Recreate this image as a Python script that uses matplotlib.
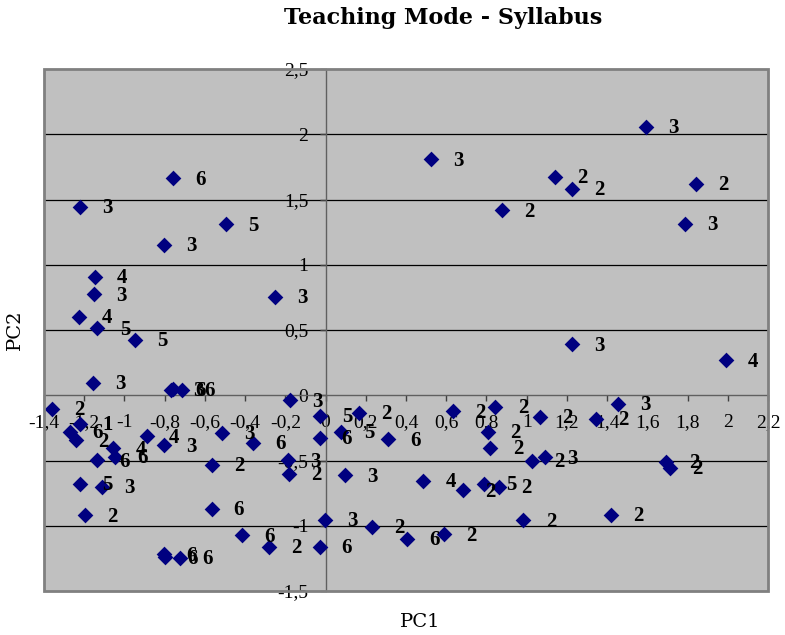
import matplotlib
matplotlib.use("Agg")
import matplotlib.pyplot as plt
from matplotlib.patches import Rectangle
from matplotlib.ticker import FuncFormatter

pc1 = [-0.759, -1.219, -0.497, -0.805, -1.147, -1.152, -1.225, -1.134, -0.950, -1.155,
       -0.768, -0.760, -0.714, -0.250, -0.175, -1.360, -1.272, -1.222, -1.242, -1.135,
       -1.055, -1.047, -0.889, -0.805, -0.514, -0.360, -0.567, -0.189, -0.180, -1.219,
       -1.110, -1.197, -0.567, -0.417, -0.280, -0.805, -0.800, -0.722, -0.030, -0.005,
       -0.030, -0.030, 0.079, 0.167, 0.312, 0.095, 0.487, 0.635, 0.845, 0.807,
       0.820, 1.067, 1.345, 1.025, 1.090, 0.682, 0.787, 0.862, 1.695, 1.712,
       1.420, 0.984, 0.229, 0.407, 0.590, 1.224, 1.990, 1.454, 0.524, 0.879,
       1.140, 1.224, 1.595, 1.840, 1.787]
pc2 = [1.661, 1.443, 1.310, 1.155, 0.907, 0.774, 0.600, 0.513, 0.427, 0.097,
       0.044, 0.046, 0.044, 0.753, -0.038, -0.102, -0.281, -0.217, -0.345, -0.498,
       -0.408, -0.473, -0.314, -0.383, -0.289, -0.366, -0.531, -0.498, -0.600, -0.677,
       -0.703, -0.920, -0.868, -1.073, -1.162, -1.218, -1.241, -1.247, -1.162, -0.953,
       -0.159, -0.324, -0.281, -0.136, -0.337, -0.613, -0.657, -0.123, -0.087, -0.281,
       -0.401, -0.166, -0.179, -0.500, -0.477, -0.728, -0.677, -0.703, -0.511, -0.554,
       -0.914, -0.958, -1.009, -1.098, -1.067, 0.389, 0.268, -0.064, 1.808, 1.418,
       1.673, 1.584, 2.056, 1.622, 1.316]
labels = ["6", "3", "5", "3", "4", "3", "4", "5", "5", "3",
          "3", "6", "6", "3", "3", "2", "6", "1", "2", "6",
          "4", "6", "4", "3", "3", "6", "2", "3", "2", "5",
          "3", "2", "6", "6", "2", "6", "6", "6", "6", "3",
          "5", "6", "5", "2", "6", "3", "4", "2", "2", "2",
          "2", "2", "2", "2", "3", "2", "5", "2", "2", "2",
          "2", "2", "2", "6", "2", "3", "4", "3", "3", "2",
          "2", "2", "3", "2", "3"]

x_ticks = [-1.4, -1.2, -1.0, -0.8, -0.6, -0.4, -0.2, 0.0, 0.2, 0.4, 0.6, 0.8, 1.0, 1.2, 1.4, 1.6, 1.8, 2.0, 2.2]
y_ticks = [-1.5, -1.0, -0.5, 0.0, 0.5, 1.0, 1.5, 2.0, 2.5]

serif = ["Liberation Serif", "DejaVu Serif"]
wide_serif = ["DejaVu Serif"]
plt.rcParams['font.family'] = serif

fig = plt.figure(figsize=(7.85, 6.35), dpi=100)
ax = fig.add_axes([44/785, 44/635, 724/785, 522/635])
ax.set_facecolor("#C0C0C0")
ax.set_xlim(-1.4, 2.2)
ax.set_ylim(-1.5, 2.5)

for yv in y_ticks[1:-1]:
    if yv != 0:
        ax.axhline(yv, color="black", lw=0.9, zorder=1)

ax.spines['left'].set_position(('data', 0))
ax.spines['bottom'].set_position(('data', 0))
ax.spines['top'].set_visible(False)
ax.spines['right'].set_visible(False)
for s in ('left', 'bottom'):
    ax.spines[s].set_color("#606060")
    ax.spines[s].set_linewidth(1.0)
    ax.spines[s].set_zorder(2)

ax.add_patch(Rectangle((0, 0), 1, 1, transform=ax.transAxes, fill=False,
                       edgecolor="#808080", lw=2, clip_on=False, zorder=5))

fmt = FuncFormatter(lambda v, p: ("%g" % round(v, 2)).replace(".", ","))
ax.set_xticks(x_ticks)
ax.set_yticks(y_ticks)
ax.xaxis.set_major_formatter(fmt)
ax.yaxis.set_major_formatter(fmt)
ax.tick_params(axis='both', direction='out', length=4.3, width=1, color="#404040",
               labelsize=14)
ax.tick_params(axis='x', pad=9)
ax.tick_params(axis='y', pad=8)
for t in ax.get_xticklabels() + ax.get_yticklabels():
    t.set_fontfamily(serif)

ax.scatter(pc1, pc2, marker='D', s=8**2, color="#000080", zorder=3, linewidths=0)
for xv, yv, lab in zip(pc1, pc2, labels):
    ax.annotate(lab, (xv, yv), xytext=(16, -1), textcoords='offset points',
                ha='left', va='center', fontsize=15, fontweight='bold',
                family=serif, color="black", zorder=4, annotation_clip=False)

fig.text(443/785, 1 - 18/635, "Teaching Mode - Syllabus", ha='center', va='center',
         fontsize=16, fontweight='bold', family=wide_serif)
fig.text(420/785, 1 - 622/635, "PC1", ha='center', va='center', fontsize=14, family=wide_serif)
fig.text(15/785, 1 - 330/635, "PC2", ha='center', va='center', fontsize=14,
         rotation=90, family=wide_serif)

fig.savefig("out.png", dpi=100)
